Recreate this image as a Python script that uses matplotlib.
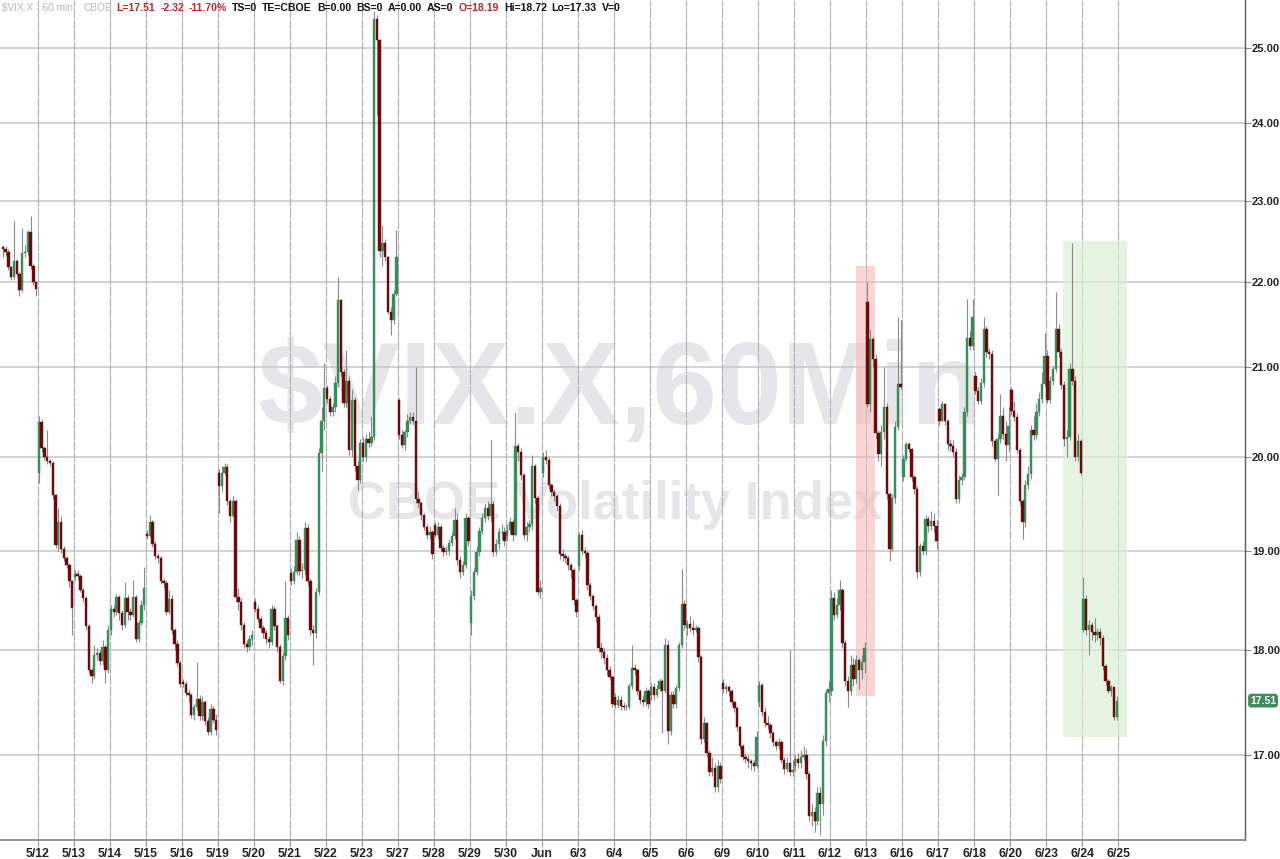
import numpy as np
import matplotlib
matplotlib.use('Agg')
import matplotlib.pyplot as plt
import matplotlib.transforms as mtransforms
from matplotlib.patches import Rectangle
from matplotlib.ticker import FixedLocator, NullLocator, FixedFormatter

plt.rcParams['font.family'] = ['Liberation Sans', 'DejaVu Sans']

# trading days with hourly bars (13 bars per session); first one is 5/9 (partly off screen)
data_days = ['5/9', '5/12', '5/13', '5/14', '5/15', '5/16', '5/19', '5/20', '5/21', '5/22',
             '5/23', '5/27', '5/28', '5/29', '5/30', '6/2', '6/3', '6/4', '6/5', '6/6',
             '6/9', '6/10', '6/11', '6/12', '6/13', '6/16', '6/17', '6/18', '6/20', '6/23', '6/24']

# labels drawn at the session boundaries
tick_labels = ['5/12', '5/13', '5/14', '5/15', '5/16', '5/19', '5/20', '5/21', '5/22', '5/23',
               '5/27', '5/28', '5/29', '5/30', 'Jun', '6/3', '6/4', '6/5', '6/6', '6/9',
               '6/10', '6/11', '6/12', '6/13', '6/16', '6/17', '6/18', '6/20', '6/23', '6/24', '6/25']

# open of the first bar of each session
day_open = [22.42, 19.83, 18.73, 18.20, 19.18, 17.69, 19.83, 18.48, 18.77, 20.76,
            20.15, 20.63, 19.27, 18.27, 19.15, 19.83, 18.84, 17.54, 17.56, 18.22,
            17.68, 17.50, 16.90, 17.60, 21.76, 19.78, 20.53, 20.90, 20.74, 21.13, 18.20]

bar_close = [
    [22.40, 22.36, 22.18, 22.06, 22.25, 22.10, 21.90, 22.35, 22.37, 22.61, 22.20, 22.00, 21.92],
    [20.38, 20.10, 20.00, 19.96, 19.93, 19.59, 19.06, 19.30, 19.02, 18.93, 18.85, 18.69, 18.42],
    [18.76, 18.74, 18.60, 18.52, 18.24, 17.80, 17.75, 17.95, 17.97, 17.89, 18.03, 17.80, 18.20],
    [18.41, 18.38, 18.53, 18.37, 18.25, 18.52, 18.38, 18.35, 18.53, 18.11, 18.27, 18.45, 18.62],
    [19.16, 19.30, 19.07, 18.95, 18.93, 18.69, 18.67, 18.38, 18.51, 18.20, 18.06, 17.87, 17.67],
    [17.67, 17.58, 17.56, 17.37, 17.45, 17.53, 17.36, 17.50, 17.32, 17.21, 17.43, 17.33, 17.23],
    [19.68, 19.83, 19.89, 19.52, 19.37, 19.52, 18.53, 18.48, 18.25, 18.06, 18.03, 18.11, 18.15],
    [18.41, 18.31, 18.22, 18.17, 18.11, 18.08, 18.41, 18.24, 18.03, 17.70, 17.94, 18.32, 18.15],
    [18.69, 18.78, 19.11, 18.79, 18.80, 19.24, 18.69, 18.20, 18.17, 18.58, 20.04, 20.40, 20.76],
    [20.64, 20.50, 20.55, 20.82, 21.79, 20.95, 20.60, 20.84, 20.08, 20.63, 19.90, 19.75, 20.15],
    [20.00, 20.20, 20.15, 20.22, 25.40, 25.10, 22.38, 22.48, 22.30, 21.65, 21.55, 21.86, 22.30],
    [20.24, 20.13, 20.27, 20.40, 20.44, 20.40, 19.55, 19.50, 19.38, 19.25, 19.17, 19.20, 18.97],
    [19.17, 19.25, 19.03, 18.99, 19.00, 19.08, 19.16, 19.32, 18.91, 18.78, 18.85, 19.34, 19.10],
    [18.54, 18.78, 18.99, 19.21, 19.34, 19.45, 19.36, 19.49, 18.99, 19.07, 19.20, 19.20, 19.10],
    [19.22, 19.30, 19.17, 20.12, 20.05, 19.80, 19.17, 19.25, 19.28, 19.90, 19.56, 18.58, 18.62],
    [20.00, 19.97, 19.69, 19.62, 19.58, 19.47, 18.97, 18.95, 18.93, 18.85, 18.80, 18.50, 18.38],
    [19.17, 19.00, 18.98, 18.65, 18.54, 18.44, 18.33, 18.02, 17.98, 17.92, 17.80, 17.74, 17.48],
    [17.47, 17.52, 17.46, 17.45, 17.45, 17.65, 17.82, 17.80, 17.60, 17.52, 17.50, 17.60, 17.48],
    [17.64, 17.56, 17.62, 17.70, 17.60, 18.05, 17.22, 17.56, 17.48, 17.63, 18.05, 18.46, 18.25],
    [18.26, 18.22, 18.20, 18.22, 17.93, 17.15, 17.30, 17.02, 16.84, 16.88, 16.70, 16.90, 16.78],
    [17.62, 17.64, 17.60, 17.50, 17.44, 17.26, 17.08, 16.98, 16.96, 16.94, 16.92, 16.90, 17.17],
    [17.66, 17.40, 17.30, 17.28, 17.20, 17.12, 17.08, 17.12, 16.95, 16.87, 16.92, 16.84, 16.86],
    [16.96, 16.92, 16.98, 17.00, 16.82, 16.44, 16.48, 16.40, 16.65, 16.55, 17.13, 17.58, 17.62],
    [18.52, 18.35, 18.45, 18.60, 18.07, 17.70, 17.60, 17.85, 17.72, 17.90, 17.80, 17.88, 18.02],
    [20.59, 21.33, 21.10, 20.26, 20.03, 20.27, 20.55, 19.60, 19.02, 19.56, 20.33, 20.81, 20.78],
    [19.98, 20.14, 20.09, 19.78, 19.65, 18.78, 19.05, 19.00, 19.33, 19.26, 19.31, 19.26, 19.10],
    [20.40, 20.58, 20.40, 20.14, 20.12, 20.05, 19.55, 19.75, 19.78, 20.50, 21.34, 21.25, 21.58],
    [20.73, 20.62, 20.82, 21.45, 21.18, 21.15, 20.17, 19.98, 20.20, 20.45, 20.25, 20.13, 20.34],
    [20.51, 20.44, 20.08, 19.52, 19.30, 19.70, 19.81, 20.29, 20.24, 20.49, 20.64, 20.81, 21.13],
    [20.63, 20.85, 20.98, 21.45, 21.18, 20.80, 20.20, 20.22, 20.98, 20.85, 20.00, 20.17, 19.82],
    [18.51, 18.20, 18.25, 18.18, 18.15, 18.18, 18.12, 17.84, 17.70, 17.60, 17.64, 17.35, 17.51],
]

bar_high = [
    [22.45, 22.44, 22.40, 22.20, 22.75, 22.28, 22.12, 22.66, 22.45, 22.64, 22.81, 22.22, 21.98],
    [20.45, 20.42, 20.12, 20.29, 19.98, 19.95, 19.60, 19.45, 19.36, 19.05, 18.95, 18.88, 18.70],
    [18.80, 18.80, 18.76, 18.62, 18.54, 18.26, 17.82, 18.05, 18.02, 18.00, 18.10, 18.05, 18.25],
    [18.45, 18.45, 18.56, 18.55, 18.40, 18.68, 18.55, 18.42, 18.70, 18.55, 18.30, 18.50, 18.83],
    [19.22, 19.38, 19.32, 19.10, 18.98, 18.95, 18.72, 18.70, 18.60, 18.55, 18.22, 18.10, 17.90],
    [17.72, 17.70, 17.62, 17.58, 17.48, 17.88, 17.56, 17.55, 17.52, 17.35, 17.48, 17.46, 17.38],
    [19.87, 19.90, 19.93, 19.92, 19.55, 19.58, 19.55, 18.62, 18.52, 18.28, 18.10, 18.15, 18.20],
    [18.52, 18.45, 18.34, 18.25, 18.20, 18.14, 18.45, 18.44, 18.26, 18.06, 17.98, 18.69, 18.35],
    [18.82, 18.84, 19.20, 19.15, 18.88, 19.30, 19.28, 18.72, 18.25, 18.62, 20.10, 20.55, 21.05],
    [20.80, 20.68, 20.60, 20.90, 22.06, 21.80, 20.98, 21.20, 20.90, 20.75, 20.66, 19.95, 20.20],
    [20.22, 20.25, 20.28, 20.45, 25.50, 25.45, 25.12, 22.70, 22.52, 22.32, 21.70, 21.90, 22.64],
    [20.65, 20.30, 20.30, 20.47, 20.50, 20.50, 21.00, 19.62, 19.52, 19.40, 19.28, 19.26, 19.22],
    [19.30, 19.30, 19.28, 19.06, 19.05, 19.12, 19.20, 19.45, 19.40, 18.95, 18.90, 19.40, 19.36],
    [18.60, 18.82, 19.05, 19.25, 19.40, 19.50, 19.52, 20.19, 19.52, 19.12, 19.24, 19.28, 19.25],
    [19.28, 19.35, 19.33, 20.50, 20.15, 20.10, 19.82, 19.30, 19.32, 20.02, 19.92, 19.58, 18.70],
    [20.05, 20.08, 20.00, 19.72, 19.65, 19.60, 19.50, 19.02, 18.98, 18.96, 18.88, 18.82, 18.52],
    [19.20, 19.22, 19.04, 19.00, 18.68, 18.56, 18.46, 18.36, 18.08, 18.02, 17.96, 17.84, 17.76],
    [17.58, 17.56, 17.55, 17.50, 17.48, 17.68, 18.05, 17.86, 17.82, 17.62, 17.56, 17.64, 17.62],
    [17.68, 17.68, 17.66, 17.73, 17.72, 18.12, 18.10, 17.60, 17.60, 17.66, 18.08, 18.81, 18.50],
    [18.30, 18.34, 18.30, 18.25, 18.24, 17.95, 17.35, 17.30, 17.04, 16.98, 16.92, 16.95, 16.93],
    [17.72, 17.67, 17.66, 17.62, 17.52, 17.46, 17.28, 17.10, 17.02, 17.00, 16.96, 16.95, 17.22],
    [17.70, 17.68, 17.45, 17.36, 17.30, 17.22, 17.14, 17.16, 17.14, 16.98, 16.98, 18.00, 16.95],
    [17.00, 17.02, 17.04, 17.08, 17.05, 16.85, 16.55, 16.52, 16.70, 16.70, 17.18, 17.62, 17.70],
    [18.60, 18.58, 18.52, 18.70, 18.62, 18.10, 17.75, 17.95, 17.92, 17.95, 17.92, 17.95, 18.08],
    [22.00, 21.45, 21.35, 21.15, 20.30, 20.35, 21.00, 20.60, 19.62, 19.60, 20.40, 21.58, 21.55],
    [20.02, 20.16, 20.16, 20.10, 19.80, 19.68, 19.08, 19.10, 19.38, 19.36, 19.42, 19.40, 19.32],
    [20.55, 20.62, 20.60, 20.42, 20.20, 20.18, 20.10, 19.80, 19.82, 20.55, 21.80, 21.42, 21.80],
    [20.95, 20.78, 20.88, 21.58, 21.48, 21.22, 21.20, 20.20, 20.25, 20.70, 20.55, 20.40, 20.55],
    [20.78, 20.62, 20.48, 20.10, 19.55, 19.75, 19.90, 20.35, 20.45, 20.60, 20.72, 20.95, 21.40],
    [21.20, 20.90, 21.02, 21.88, 21.50, 21.22, 20.85, 20.30, 21.05, 22.48, 20.90, 20.25, 20.20],
    [18.73, 18.55, 18.30, 18.28, 18.32, 18.22, 18.22, 18.15, 17.86, 17.72, 17.66, 17.64, 17.55],
]

bar_low = [
    [22.30, 22.32, 22.15, 22.02, 22.04, 22.06, 21.83, 21.88, 22.30, 22.33, 22.16, 21.97, 21.83],
    [19.72, 20.05, 19.97, 19.92, 19.90, 19.55, 19.03, 19.00, 18.98, 18.90, 18.82, 18.63, 18.15],
    [18.70, 18.70, 18.58, 18.48, 18.20, 17.78, 17.68, 17.72, 17.90, 17.85, 17.85, 17.68, 17.78],
    [18.15, 18.33, 18.35, 18.30, 18.20, 18.22, 18.30, 18.30, 18.33, 18.08, 18.08, 18.25, 18.40],
    [19.12, 19.14, 19.04, 18.92, 18.88, 18.66, 18.62, 18.35, 18.36, 18.16, 18.00, 17.84, 17.64],
    [17.64, 17.55, 17.50, 17.34, 17.33, 17.42, 17.33, 17.33, 17.28, 17.18, 17.18, 17.30, 17.18],
    [19.40, 19.62, 19.80, 19.48, 19.30, 19.35, 18.48, 18.40, 18.20, 18.02, 17.98, 18.00, 18.05],
    [18.38, 18.28, 18.18, 18.12, 18.06, 18.02, 18.05, 18.20, 17.98, 17.68, 17.66, 17.90, 18.10],
    [18.65, 18.66, 18.75, 18.75, 18.72, 18.75, 18.65, 18.15, 17.85, 18.12, 18.55, 19.85, 20.30],
    [20.60, 20.45, 20.45, 20.50, 20.78, 20.90, 20.55, 20.55, 20.02, 20.00, 19.85, 19.64, 19.72],
    [19.95, 19.95, 20.10, 20.12, 20.18, 24.10, 22.30, 22.20, 22.25, 21.62, 21.37, 21.50, 21.84],
    [20.20, 20.10, 20.08, 20.22, 20.36, 20.35, 19.50, 19.45, 19.32, 19.22, 19.12, 19.12, 18.92],
    [19.14, 19.12, 19.00, 18.95, 18.96, 18.96, 19.05, 19.12, 18.85, 18.72, 18.75, 18.82, 19.05],
    [18.15, 18.50, 18.75, 18.95, 19.18, 19.30, 19.32, 19.30, 18.95, 18.96, 19.02, 19.12, 19.05],
    [19.10, 19.18, 19.10, 19.15, 19.95, 19.75, 19.12, 19.10, 19.20, 19.22, 19.50, 18.55, 18.52],
    [19.78, 19.92, 19.65, 19.58, 19.52, 19.42, 18.92, 18.90, 18.88, 18.80, 18.72, 18.45, 18.33],
    [18.80, 18.96, 18.94, 18.60, 18.50, 18.40, 18.28, 17.98, 17.92, 17.86, 17.76, 17.72, 17.45],
    [17.44, 17.44, 17.42, 17.42, 17.42, 17.43, 17.62, 17.76, 17.56, 17.48, 17.46, 17.46, 17.44],
    [17.52, 17.52, 17.54, 17.60, 17.20, 17.58, 17.10, 17.18, 17.44, 17.44, 17.60, 18.02, 18.20],
    [18.15, 18.18, 18.15, 18.18, 17.88, 17.10, 17.12, 16.98, 16.80, 16.80, 16.66, 16.66, 16.74],
    [17.58, 17.58, 17.55, 17.47, 17.40, 17.22, 17.05, 16.95, 16.92, 16.88, 16.86, 16.85, 16.88],
    [17.45, 17.36, 17.26, 17.24, 17.16, 17.08, 17.04, 17.05, 16.92, 16.82, 16.84, 16.80, 16.80],
    [16.85, 16.88, 16.88, 16.95, 16.78, 16.40, 16.35, 16.30, 16.36, 16.27, 16.45, 17.08, 17.50],
    [17.55, 18.30, 18.32, 18.40, 18.02, 17.65, 17.45, 17.56, 17.65, 17.68, 17.62, 17.72, 17.78],
    [20.55, 20.50, 21.00, 20.20, 19.95, 19.90, 20.20, 19.55, 18.90, 19.00, 19.50, 20.30, 20.75],
    [19.74, 19.95, 20.05, 19.74, 19.60, 18.72, 18.74, 18.96, 18.96, 19.20, 19.22, 19.20, 19.02],
    [20.35, 20.38, 20.35, 20.08, 20.06, 20.00, 19.50, 19.50, 19.70, 19.75, 20.45, 21.20, 21.20],
    [20.70, 20.58, 20.58, 20.78, 21.12, 21.10, 20.12, 19.95, 19.59, 20.15, 20.20, 19.95, 20.05],
    [20.46, 20.40, 20.04, 19.48, 19.12, 19.25, 19.65, 19.76, 20.18, 20.20, 20.45, 20.60, 20.78],
    [20.60, 20.60, 20.80, 20.95, 21.12, 20.75, 20.12, 20.00, 20.18, 20.80, 19.96, 19.95, 19.80],
    [18.18, 18.15, 17.95, 18.10, 18.08, 18.10, 18.05, 17.80, 17.66, 17.58, 17.55, 17.33, 17.33],
]

last_price = 17.51
y_ticks = [17, 18, 19, 20, 21, 22, 23, 24, 25]

BARS = 13
UP = '#3b8c5c'
DOWN = '#6a0b0b'

# flatten sessions into bar slots; session k of the labelled days starts at slot 13*k
xs, o, h, l, c = [], [], [], [], []
for d in range(len(data_days)):
    base = (d - 1) * BARS
    prev = day_open[d]
    for j in range(BARS):
        xs.append(base + j + 0.5)
        o.append(prev)
        c.append(bar_close[d][j])
        h.append(bar_high[d][j])
        l.append(bar_low[d][j])
        prev = bar_close[d][j]
xs, o, h, l, c = map(np.array, (xs, o, h, l, c))

W, H = 1280, 859
fig = plt.figure(figsize=(W / 100, H / 100), dpi=100)
ax = fig.add_axes([0, 19 / H, 1245 / W, 840 / H])

ax.set_yscale('log')
ax.set_ylim(16.228, 25.66)
px_slot = 36.02 / BARS
ax.set_xlim(-37.5 / px_slot, (1245 - 37.5) / px_slot)

# watermark
ax.text(0.498, 0.532, '$VIX.X,60Min', transform=ax.transAxes, ha='center', va='center',
        fontsize=84, fontweight='bold', color='#e6e6ea', zorder=0)
ax.text(0.494, 0.399, 'CBOE Volatility Index', transform=ax.transAxes, ha='center', va='center',
        fontsize=38, fontweight='bold', color='#e6e6ea', zorder=0)

# grid
for p in y_ticks:
    ax.axhline(p, color='#c6c6c6', lw=1.1, zorder=0.5)
for k in range(len(tick_labels)):
    ax.axvline(k * BARS, color='#b0b0b0', lw=0.8, ls=(0, (9, 1)), zorder=0.5)

# highlighted zones
pink_x0 = 22 * BARS + 9.3
pink_x1 = 23 * BARS + 3.1
ax.add_patch(Rectangle((pink_x0, 17.55), pink_x1 - pink_x0, 22.2 - 17.55,
                       facecolor='#f6b9b9', alpha=0.6, edgecolor='none', zorder=1))
green_x0 = 28 * BARS + 6.25
green_x1 = 30 * BARS + 3.3
ax.add_patch(Rectangle((green_x0, 17.17), green_x1 - green_x0, 22.5 - 17.17,
                       facecolor='#d9f0d4', alpha=0.7, edgecolor='none', zorder=1))

# candles
ax.vlines(xs, l, h, color='#8a8a8a', lw=0.8, zorder=2)
up = c >= o
dn = ~up
ax.bar(xs[up], c[up] - o[up], bottom=o[up], width=0.86, color=UP, edgecolor=UP, lw=0.3, zorder=3)
ax.bar(xs[dn], c[dn] - o[dn], bottom=o[dn], width=0.86, color=DOWN, edgecolor=DOWN, lw=0.3, zorder=3)

# axes styling
for s in ['top', 'left']:
    ax.spines[s].set_visible(False)
ax.spines['right'].set_color('#5a5a5a')
ax.spines['right'].set_linewidth(1.0)
ax.spines['bottom'].set_color('#8a8a8a')
ax.spines['bottom'].set_linewidth(1.3)

ax.yaxis.tick_right()
ax.yaxis.set_major_locator(FixedLocator(y_ticks))
ax.yaxis.set_minor_locator(NullLocator())
ax.yaxis.set_major_formatter(FixedFormatter(['%.2f' % v for v in y_ticks]))
ax.yaxis.set_minor_formatter(plt.NullFormatter())
ax.tick_params(axis='y', which='major', length=4, width=0.8, color='#888888',
               labelsize=8, labelcolor='#222222', pad=1)
for t in ax.get_yticklabels():
    t.set_fontweight('bold')

ax.set_xticks([k * BARS for k in range(len(tick_labels))])
ax.set_xticklabels(tick_labels)
ax.tick_params(axis='x', length=5, width=0.8, color='#9a9a9a', labelsize=8.8,
               labelcolor='#222222', pad=1)
for t in ax.get_xticklabels():
    t.set_fontweight('bold')

# last price tag
trans = mtransforms.blended_transform_factory(ax.transAxes, ax.transData)
ax.text(1.004, last_price, '%.2f' % last_price, transform=trans, ha='left', va='center',
        fontsize=7.5, fontweight='bold', color='white', clip_on=False, zorder=5,
        bbox=dict(boxstyle='round,pad=0.18,rounding_size=0.3', fc='#3e8b5e', ec='none'))

# header line: text, colour, weight, size, gap after
header = [('$VIX.X - 60 min', '#b9b9b9', 'normal', 7.3, 10), ('CBOE', '#b9b9b9', 'normal', 7.3, 5),
          ('L=17.51', '#c0282d', 'bold', 7.6, 5), ('-2.32', '#c0282d', 'bold', 7.6, 5),
          ('-11.70%', '#c0282d', 'bold', 7.6, 5), ('TS=0', '#111111', 'bold', 7.6, 5),
          ('TE=CBOE', '#111111', 'bold', 7.6, 5), ('B=0.00', '#111111', 'bold', 7.6, 5),
          ('BS=0', '#111111', 'bold', 7.6, 5), ('A=0.00', '#111111', 'bold', 7.6, 5),
          ('AS=0', '#111111', 'bold', 7.6, 5), ('O=18.19', '#c0282d', 'bold', 7.6, 5),
          ('Hi=18.72', '#111111', 'bold', 7.6, 5), ('Lo=17.33', '#111111', 'bold', 7.6, 5),
          ('V=0', '#111111', 'bold', 7.6, 5)]
renderer = fig.canvas.get_renderer()
xpix = 2
for txt, col, wt, fs, gap in header:
    t = fig.text(xpix / W, 1 - 8 / H, txt, ha='left', va='center', fontsize=fs,
                 color=col, fontweight=wt)
    bb = t.get_window_extent(renderer=renderer)
    xpix += bb.width + gap

fig.savefig('out.png', dpi=100, facecolor='white')
